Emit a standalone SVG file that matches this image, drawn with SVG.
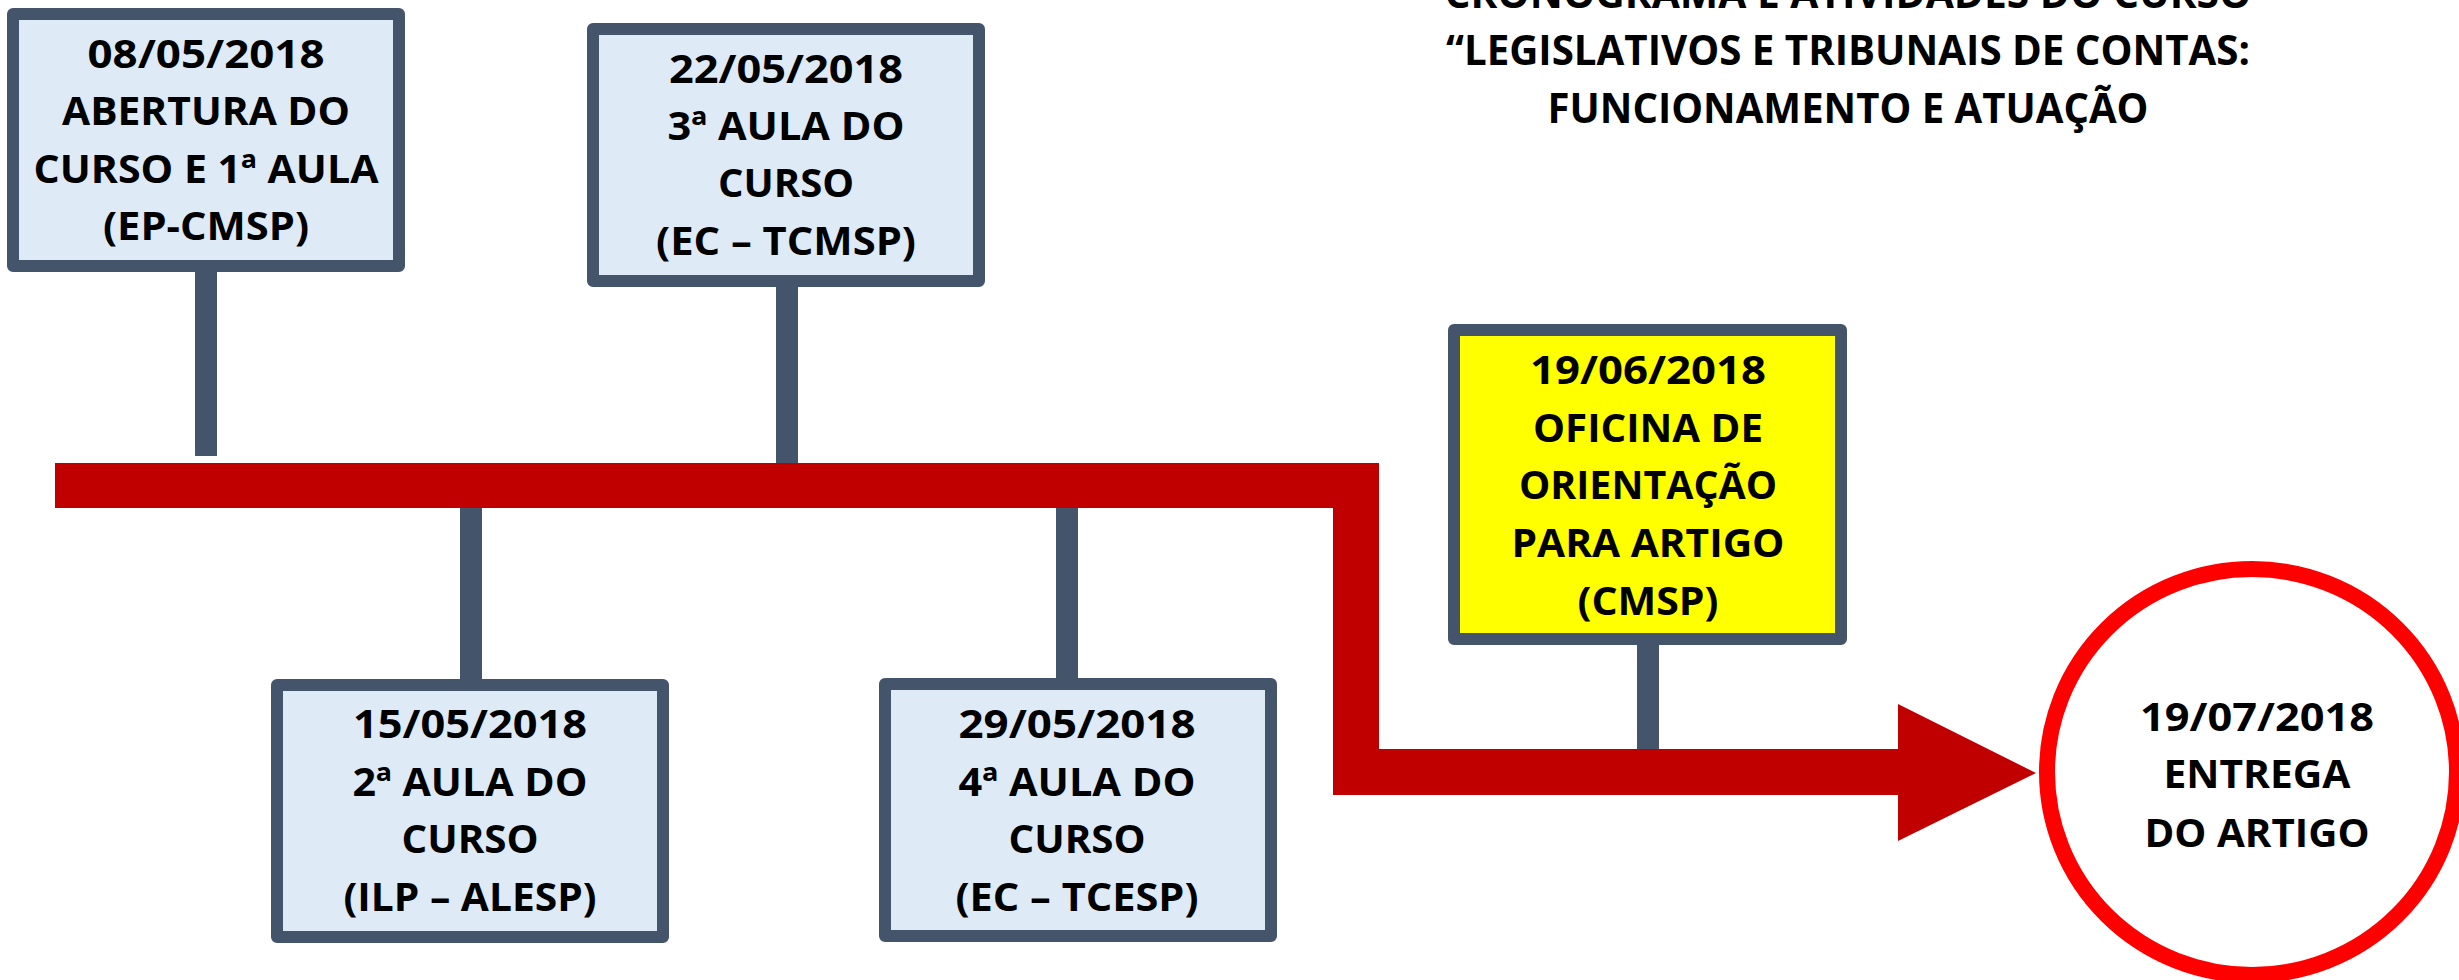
<svg xmlns="http://www.w3.org/2000/svg" width="2459" height="980" viewBox="0 0 2459 980">
<style>
.box{fill:#DEEBF7;stroke:#44546A;stroke-width:12;stroke-linejoin:round}
.ybox{fill:#FFFF00;stroke:#44546A;stroke-width:12;stroke-linejoin:round}
.stem{stroke:#44546A;stroke-width:22;fill:none}
.t{font-family:"Open Sans","Liberation Sans",sans-serif;font-weight:bold;font-size:40px;fill:#000;text-anchor:middle}
.title{font-size:42px}
</style>
<rect width="2459" height="980" fill="#FFFFFF"/>
<g id="title">
<text class="t title" x="1848" y="8" textLength="807" lengthAdjust="spacingAndGlyphs">CRONOGRAMA E ATIVIDADES DO CURSO</text>
<text class="t title" x="1848" y="65" textLength="804" lengthAdjust="spacingAndGlyphs">“LEGISLATIVOS E TRIBUNAIS DE CONTAS:</text>
<text class="t title" x="1848" y="123" textLength="601" lengthAdjust="spacingAndGlyphs">FUNCIONAMENTO E ATUAÇÃO</text>
</g>
<g id="connectors">
<polygon id="timeline" fill="#C00000" points="55,463 1379,463 1379,749 1898,749 1898,704 2036,773 1898,841 1898,795 1333,795 1333,508 55,508"/>
<line class="stem" x1="206" y1="272" x2="206" y2="456"/>
<line class="stem" x1="787" y1="287" x2="787" y2="463"/>
<line class="stem" x1="471" y1="508" x2="471" y2="679"/>
<line class="stem" x1="1067" y1="508" x2="1067" y2="678"/>
<line class="stem" x1="1648" y1="645" x2="1648" y2="749"/>
</g>
<g id="node-0805">
<rect class="box" x="13" y="14" width="386" height="252"/>
<text class="t" x="206" y="68" textLength="237" lengthAdjust="spacingAndGlyphs">08/05/2018</text>
<text class="t" x="206" y="125" textLength="288" lengthAdjust="spacingAndGlyphs">ABERTURA DO</text>
<text class="t" x="206" y="183" textLength="345" lengthAdjust="spacingAndGlyphs">CURSO E 1ª AULA</text>
<text class="t" x="206" y="240" textLength="206" lengthAdjust="spacingAndGlyphs">(EP-CMSP)</text>
</g>
<g id="node-2205">
<rect class="box" x="593" y="29" width="386" height="252"/>
<text class="t" x="786" y="83" textLength="234" lengthAdjust="spacingAndGlyphs">22/05/2018</text>
<text class="t" x="786" y="140" textLength="237" lengthAdjust="spacingAndGlyphs">3ª AULA DO</text>
<text class="t" x="786" y="197" textLength="136" lengthAdjust="spacingAndGlyphs">CURSO</text>
<text class="t" x="786" y="255" textLength="260" lengthAdjust="spacingAndGlyphs">(EC – TCMSP)</text>
</g>
<g id="node-1505">
<rect class="box" x="277" y="685" width="386" height="252"/>
<text class="t" x="470" y="738" textLength="234" lengthAdjust="spacingAndGlyphs">15/05/2018</text>
<text class="t" x="470" y="796" textLength="235" lengthAdjust="spacingAndGlyphs">2ª AULA DO</text>
<text class="t" x="470" y="853" textLength="137" lengthAdjust="spacingAndGlyphs">CURSO</text>
<text class="t" x="470" y="911" textLength="253" lengthAdjust="spacingAndGlyphs">(ILP – ALESP)</text>
</g>
<g id="node-2905">
<rect class="box" x="885" y="684" width="386" height="252"/>
<text class="t" x="1077" y="738" textLength="237" lengthAdjust="spacingAndGlyphs">29/05/2018</text>
<text class="t" x="1077" y="796" textLength="237" lengthAdjust="spacingAndGlyphs">4ª AULA DO</text>
<text class="t" x="1077" y="853" textLength="137" lengthAdjust="spacingAndGlyphs">CURSO</text>
<text class="t" x="1077" y="911" textLength="243" lengthAdjust="spacingAndGlyphs">(EC – TCESP)</text>
</g>
<g id="node-1906">
<rect class="ybox" x="1454" y="330" width="387" height="309"/>
<text class="t" x="1648" y="384" textLength="236" lengthAdjust="spacingAndGlyphs">19/06/2018</text>
<text class="t" x="1648" y="442" textLength="230" lengthAdjust="spacingAndGlyphs">OFICINA DE</text>
<text class="t" x="1648" y="499" textLength="258" lengthAdjust="spacingAndGlyphs">ORIENTAÇÃO</text>
<text class="t" x="1648" y="557" textLength="273" lengthAdjust="spacingAndGlyphs">PARA ARTIGO</text>
<text class="t" x="1648" y="615" textLength="141" lengthAdjust="spacingAndGlyphs">(CMSP)</text>
</g>
<g id="node-1907">
<ellipse cx="2252" cy="772" rx="205" ry="203" fill="#FFFFFF" stroke="#FF0000" stroke-width="16"/>
<text class="t" x="2257" y="731" textLength="234" lengthAdjust="spacingAndGlyphs">19/07/2018</text>
<text class="t" x="2257" y="788" textLength="187" lengthAdjust="spacingAndGlyphs">ENTREGA</text>
<text class="t" x="2257" y="847" textLength="225" lengthAdjust="spacingAndGlyphs">DO ARTIGO</text>
</g>
</svg>
